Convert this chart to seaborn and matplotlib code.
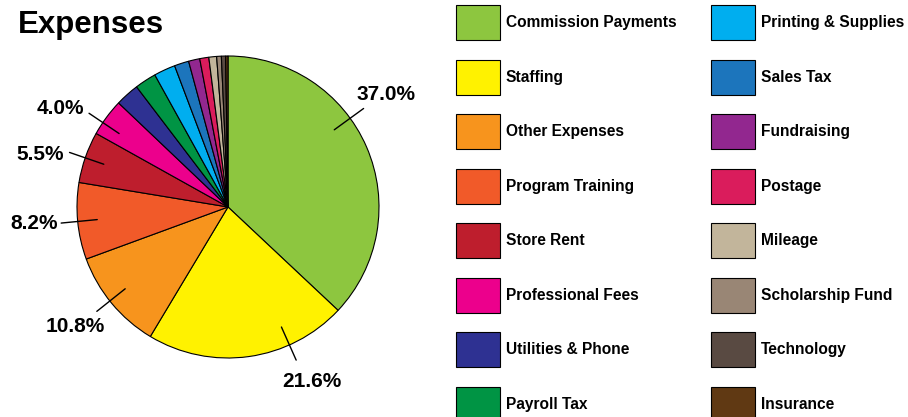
import numpy as np
import matplotlib
matplotlib.use("Agg")
import matplotlib.pyplot as plt
import seaborn as sns

# expense categories, in pie order (clockwise from the top)
categories = ["Commission Payments", "Staffing", "Other Expenses", "Program Training",
              "Store Rent", "Professional Fees", "Utilities & Phone", "Payroll Tax",
              "Printing & Supplies", "Sales Tax", "Fundraising", "Postage",
              "Mileage", "Scholarship Fund", "Technology", "Insurance"]
shares = [37.0, 21.6, 10.8, 8.2, 5.5, 4.0, 2.55, 2.3, 2.3, 1.55, 1.2, 0.97,
          0.83, 0.5, 0.45, 0.25]
colors = ["#8DC63F", "#FFF200", "#F7941D", "#F15A29", "#BE1E2D", "#EC008C",
          "#2E3192", "#009444", "#00AEEF", "#1C75BC", "#92278F", "#DA1C5C",
          "#C2B59B", "#998675", "#594A42", "#603913"]

# labelled slices and where their leader lines point (degrees)
n_labelled = 6
line_angles = [36, -66, -141.5, -174.5, 161, 146]
text_angles = [35.7, -64.4, -141.7, -175, 164.2, 149.5]

sns.set_theme(style="white")
plt.rcParams["font.family"] = ["Liberation Sans", "DejaVu Sans"]
plt.rcParams["text.color"] = "black"

fig = plt.figure(figsize=(9.08, 4.17), dpi=100)
ax = fig.add_axes([77 / 908, 1 - 358 / 417, 302 / 908, 302 / 417])

wedges, _ = ax.pie(shares, colors=colors, startangle=90, counterclock=False,
                   radius=1, wedgeprops=dict(edgecolor="black", linewidth=0.8))
ax.set_xlim(-1, 1)
ax.set_ylim(-1, 1)
ax.set_aspect("equal")
ax.axis("off")

# percentage labels with short leader lines
for i in range(n_labelled):
    a = np.deg2rad(line_angles[i])
    ax.plot([0.87 * np.cos(a), 1.11 * np.cos(a)], [0.87 * np.sin(a), 1.11 * np.sin(a)],
            color="black", lw=1, clip_on=False)
    t = np.deg2rad(text_angles[i])
    ax.text(1.29 * np.cos(t), 1.28 * np.sin(t), f"{shares[i]:.1f}%", color="black",
            ha="center", va="center", fontsize=15, fontweight="bold", clip_on=False)

fig.text(18 / 908, 1 - 33 / 417, "Expenses", fontsize=22.5, fontweight="bold",
         color="black", ha="left", va="baseline")

leg = ax.legend(wedges, categories, ncol=2, loc="upper left",
                bbox_to_anchor=(456 / 908, 1 - 5 / 417), bbox_transform=fig.transFigure,
                frameon=False, borderpad=0, borderaxespad=0,
                prop=dict(size=11.2, weight="bold"),
                handlelength=2.83, handleheight=3.08, handletextpad=0.38,
                labelspacing=1.26, columnspacing=2.2)
for txt in leg.get_texts():
    txt.set_color("black")

fig.savefig("out.png", dpi=100)
